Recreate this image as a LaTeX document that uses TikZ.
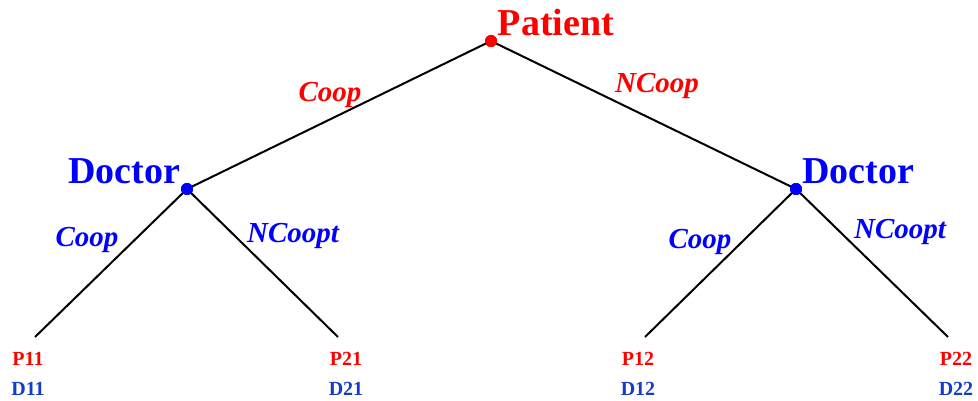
\documentclass[tikz,border=0pt]{standalone}
\usepackage{fontspec}
\setmainfont{Liberation Serif}
\definecolor{pred}{RGB}{255,0,0}
\definecolor{dblue}{RGB}{0,0,255}
\definecolor{leafblue}{RGB}{20,60,200}
\begin{document}
\begin{tikzpicture}[x=1pt,y=-1pt,
  dot/.style={circle,fill=#1,inner sep=0pt,minimum size=12pt},
  edge/.style={line width=2pt,black},
  player/.style={font=\fontsize{38}{40}\selectfont\bfseries,text=#1,inner sep=0pt,anchor=base},
  act/.style={font=\fontsize{29}{31}\selectfont\bfseries\itshape,text=#1,inner sep=0pt,anchor=base},
  pay/.style={font=\fontsize{20}{22}\selectfont\bfseries,text=#1,inner sep=0pt,anchor=base}]
\useasboundingbox (0,0) rectangle (978,401);
\node[dot=pred] (root) at (491,41) {};
\node[dot=dblue] (dl) at (187,189) {};
\node[dot=dblue] (dr) at (796,189) {};
\coordinate (l1) at (35,337);
\coordinate (l2) at (338,337);
\coordinate (l3) at (645,337);
\coordinate (l4) at (948,337);
\draw[edge] (root.center) -- (dl.center);
\draw[edge] (root.center) -- (dr.center);
\draw[edge] (dl.center) -- (l1);
\draw[edge] (dl.center) -- (l2);
\draw[edge] (dr.center) -- (l3);
\draw[edge] (dr.center) -- (l4);
\node[dot=pred] at (root.center) {};
\node[dot=dblue] at (dl.center) {};
\node[dot=dblue] at (dr.center) {};
\node[player=pred] (tp) at (556,36) {Patient};
\node[player=dblue] (tdl) at (124,184) {Doctor};
\node[player=dblue] (tdr) at (858,184) {Doctor};
\node[act=pred] (a1) at (330,102) {Coop};
\node[act=pred] (a2) at (657,93) {NCoop};
\node[act=dblue] (a3) at (87,247) {Coop};
\node[act=dblue] (a4) at (293,242) {NCoopt};
\node[act=dblue] (a5) at (700,248) {Coop};
\node[act=dblue] (a6) at (900,239) {NCoopt};
\node[pay=pred] (p11) at (28,365) {P11};
\node[pay=leafblue] (d11) at (28,395) {D11};
\node[pay=pred] (p21) at (346,365) {P21};
\node[pay=leafblue] (d21) at (346,395) {D21};
\node[pay=pred] (p12) at (638,365) {P12};
\node[pay=leafblue] (d12) at (638,395) {D12};
\node[pay=pred] (p22) at (956,365) {P22};
\node[pay=leafblue] (d22) at (956,395) {D22};
\end{tikzpicture}
\end{document}
